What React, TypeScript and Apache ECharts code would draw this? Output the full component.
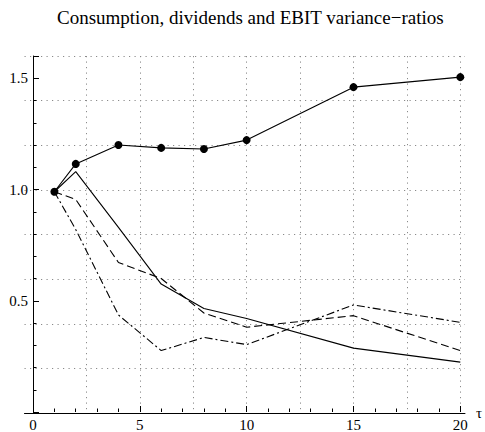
import React, { useEffect, useRef } from "react";
import * as echarts from "echarts";

const titleText = "Consumption, dividends and EBIT variance\u2212ratios";
const tau = [1, 2, 4, 6, 8, 10, 15, 20];
const ratioDots = [0.99, 1.115, 1.2, 1.187, 1.182, 1.222, 1.46, 1.505];
const ratioSolid = [0.99, 1.08, 0.83, 0.575, 0.465, 0.42, 0.287, 0.224];
const ratioDashed = [0.99, 0.955, 0.672, 0.6, 0.445, 0.381, 0.433, 0.276];
const ratioDashDot = [0.99, 0.82, 0.436, 0.276, 0.335, 0.303, 0.481, 0.403];
const xLabels = [0, 5, 10, 15, 20];
const yLabels = [0.5, 1.0, 1.5];

const FONT = "'Liberation Serif', 'DejaVu Serif', serif";

const pairs = (ys: number[]) => tau.map((x, i) => [x, ys[i]]);

export default function App() {
  const ref = useRef<HTMLDivElement>(null);
  useEffect(() => {
    if (!ref.current) return;
    const chart = echarts.init(ref.current, null, { renderer: "svg" });
    const gridDot = { color: "#8a8a8a", width: 1, type: [1.2, 4.3] as any };
    chart.setOption({
      animation: false,
      backgroundColor: "#ffffff",
      title: {
        text: titleText,
        left: 52,
        top: 3,
        padding: 5,
        textStyle: { fontFamily: FONT, fontSize: 19, fontWeight: "normal", color: "#000" },
      },
      grid: [
        { left: 33, right: 24.7, top: 56, bottom: 18.6 },
        { left: 24.5, right: 16, top: 56, bottom: 18.6 },
      ],
      xAxis: [
        {
          gridIndex: 0,
          type: "value",
          min: 0,
          max: 20,
          interval: 5,
          axisLine: { show: false },
          axisTick: { show: true, inside: true, length: 6, lineStyle: { color: "#000", width: 1 } },
          minorTick: { show: true, splitNumber: 5, length: 3.5, lineStyle: { color: "#000", width: 1 } },
          axisLabel: {
            show: true,
            margin: 5,
            fontFamily: FONT,
            fontSize: 15,
            color: "#000",
            formatter: (v: number) => (xLabels.includes(v) ? String(v) : ""),
          },
          splitLine: { show: false },
        },
        {
          gridIndex: 0,
          type: "value",
          min: 0,
          max: 20,
          interval: 2.5,
          axisLine: { show: false },
          axisTick: { show: false },
          axisLabel: { show: false },
          splitLine: { show: true, showMinLine: false, lineStyle: gridDot },
        },
        {
          gridIndex: 1,
          type: "value",
          min: -0.4,
          max: 20.4,
          axisLine: { show: true, onZero: false, lineStyle: { color: "#000", width: 1 } },
          axisTick: { show: false },
          axisLabel: { show: false },
          splitLine: { show: false },
          name: "\u03c4",
          nameLocation: "end",
          nameGap: 11,
          nameTextStyle: { fontFamily: FONT, fontSize: 15, color: "#000" },
        },
      ],
      yAxis: [
        {
          gridIndex: 0,
          type: "value",
          min: 0,
          max: 1.6,
          interval: 0.5,
          axisLine: { show: true, lineStyle: { color: "#000", width: 1 } },
          axisTick: { show: true, inside: true, length: 6, lineStyle: { color: "#000", width: 1 } },
          minorTick: { show: true, splitNumber: 5, length: 3.5, lineStyle: { color: "#000", width: 1 } },
          axisLabel: {
            show: true,
            margin: 5,
            fontFamily: FONT,
            fontSize: 15,
            color: "#000",
            formatter: (v: number) =>
              yLabels.some((l) => Math.abs(l - v) < 1e-9) ? v.toFixed(1) : "",
          },
          splitLine: { show: false },
        },
        {
          gridIndex: 1,
          type: "value",
          min: 0,
          max: 1.6,
          interval: 0.2,
          axisLine: { show: false },
          axisTick: { show: false },
          axisLabel: { show: false },
          splitLine: { show: true, showMinLine: false, lineStyle: gridDot },
        },
      ],
      series: [
        {
          type: "line",
          xAxisIndex: 0,
          yAxisIndex: 0,
          data: pairs(ratioSolid),
          showSymbol: false,
          symbol: "none",
          lineStyle: { color: "#000", width: 1.1, type: "solid" },
          z: 3,
        },
        {
          type: "line",
          xAxisIndex: 0,
          yAxisIndex: 0,
          data: pairs(ratioDashed),
          symbol: "none",
          lineStyle: { color: "#000", width: 1.1, type: [8, 4] },
          z: 3,
        },
        {
          type: "line",
          xAxisIndex: 0,
          yAxisIndex: 0,
          data: pairs(ratioDashDot),
          symbol: "none",
          lineStyle: { color: "#000", width: 1.1, type: [8, 3, 2, 3] },
          z: 3,
        },
        {
          type: "line",
          xAxisIndex: 0,
          yAxisIndex: 0,
          data: pairs(ratioDots),
          symbol: "circle",
          symbolSize: 8,
          itemStyle: { color: "#000" },
          lineStyle: { color: "#000", width: 1.1 },
          z: 4,
        },
      ],
    });
    return () => chart.dispose();
  }, []);
  return (
    <div
      ref={ref}
      style={{ position: "fixed", left: 0, top: 0, width: 485, height: 432, background: "#fff" }}
    />
  );
}
